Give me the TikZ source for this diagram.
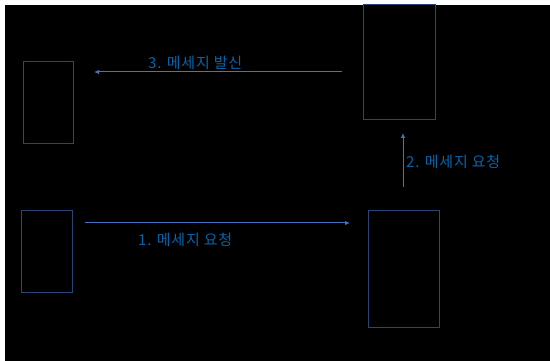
\documentclass[tikz,border=0pt]{standalone}
\usepackage{fontspec}
\newfontfamily\cjk[LetterSpace=5]{Noto Sans CJK KR}
\usetikzlibrary{arrows.meta}
\definecolor{boxc}{HTML}{2A4677}
\definecolor{arrc}{HTML}{4472C4}
\definecolor{txtc}{HTML}{0A62A8}
\tikzset{
  box/.style={draw=boxc, line width=1pt, inner sep=0pt},
  arr/.style={draw=arrc, line width=1pt, -{Latex[length=5pt,width=4.5pt]}},
  lbl/.style={text=txtc, font=\cjk\fontsize{15}{17}\selectfont, inner sep=0pt, anchor=west}
}
\begin{document}
\begin{tikzpicture}[x=1pt,y=-1pt]
\fill[white] (0,0) rectangle (550,361);
\fill[black] (5,5) rectangle (550,361);
\useasboundingbox (0,0) rectangle (550,361);
\node[box, minimum width=50pt, minimum height=82pt] (A) at (48,103) {};
\node[box, minimum width=72pt, minimum height=115pt] (B) at (399,62.5) {};
\node[box, minimum width=51pt, minimum height=81pt] (C) at (46.5,251.5) {};
\node[box, minimum width=71pt, minimum height=116pt] (D) at (403.5,269) {};
\coordinate (a1s) at (85,223);
\coordinate (a1e) at (350,223);
\coordinate (a2s) at (403,187);
\coordinate (a2e) at (403,133);
\coordinate (a3s) at (342,72);
\coordinate (a3e) at (94,72);
\draw[arr] (a1s) -- (a1e);
\draw[arr] (a2s) -- (a2e);
\draw[arr] (a3s) -- (a3e);
\node[lbl] (t1) at (138,239.5) {1. 메세지 요청};
\node[lbl] (t2) at (406,161.5) {2. 메세지 요청};
\node[lbl] (t3) at (148,63) {3. 메세지 발신};
\end{tikzpicture}
\end{document}
